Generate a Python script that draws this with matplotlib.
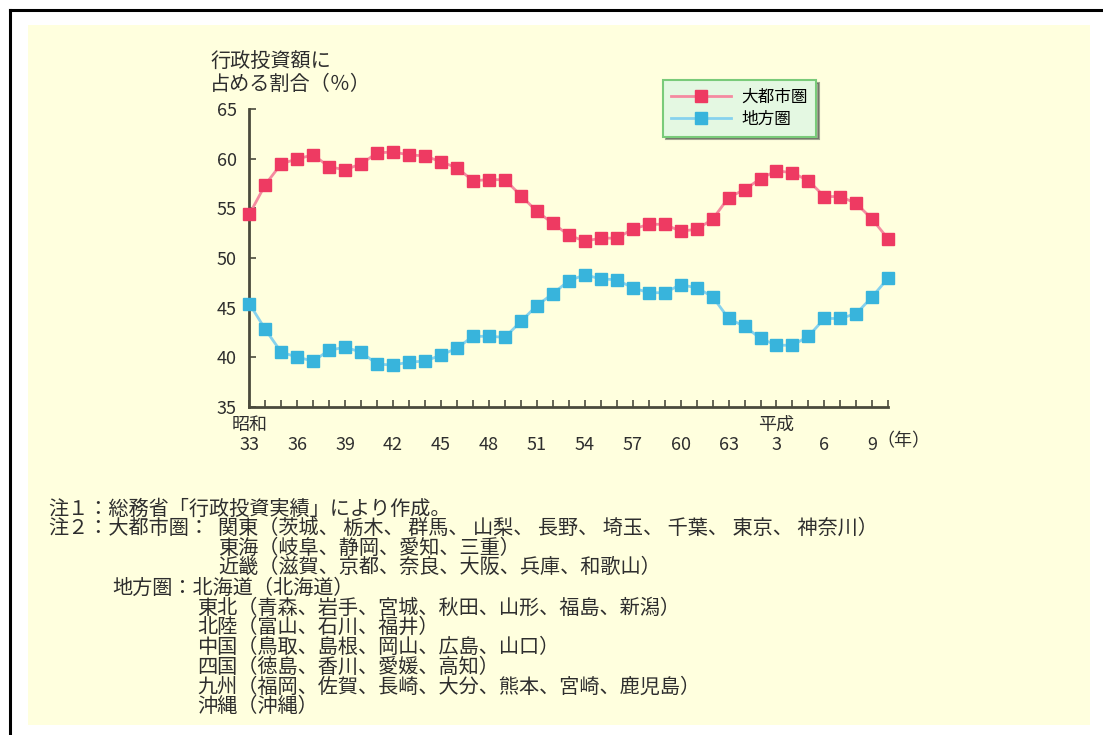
import matplotlib
matplotlib.use('Agg')
import matplotlib.pyplot as plt
from matplotlib.patches import Rectangle
from matplotlib.lines import Line2D

plt.rcParams['font.family'] = ['Noto Sans CJK JP', 'DejaVu Sans']

# ---- data ----
years = [1958, 1959, 1960, 1961, 1962, 1963, 1964, 1965, 1966, 1967,
         1968, 1969, 1970, 1971, 1972, 1973, 1974, 1975, 1976, 1977,
         1978, 1979, 1980, 1981, 1982, 1983, 1984, 1985, 1986, 1987,
         1988, 1989, 1990, 1991, 1992, 1993, 1994, 1995, 1996, 1997, 1998]
metro = [54.4, 57.4, 59.5, 60.0, 60.4, 59.2, 58.9, 59.5, 60.6, 60.7,
         60.4, 60.3, 59.7, 59.1, 57.8, 57.9, 57.9, 56.3, 54.7, 53.5,
         52.3, 51.7, 52.0, 52.0, 52.9, 53.4, 53.4, 52.7, 52.9, 53.9,
         56.1, 56.9, 58.0, 58.8, 58.6, 57.8, 56.2, 56.2, 55.5, 53.9, 51.9]
regional = [45.4, 42.8, 40.5, 40.0, 39.6, 40.7, 41.0, 40.5, 39.3, 39.2,
            39.5, 39.6, 40.2, 40.9, 42.1, 42.1, 42.0, 43.6, 45.2, 46.4,
            47.7, 48.3, 47.9, 47.8, 47.0, 46.5, 46.5, 47.3, 47.0, 46.1,
            43.9, 43.1, 41.9, 41.2, 41.2, 42.1, 43.9, 43.9, 44.4, 46.1, 48.0]
tick_years = [1958, 1961, 1964, 1967, 1970, 1973, 1976, 1979, 1982, 1985,
              1988, 1991, 1994, 1997]
tick_labels = ['33', '36', '39', '42', '45', '48', '51', '54', '57', '60',
               '63', '3', '6', '9']
series_names = ['大都市圏', '地方圏']
y_ticks = [35, 40, 45, 50, 55, 60, 65]
notes = [
    ('注１：総務省「行政投資実績」により作成。', 48, 509),
    ('注２：大都市圏：', 48, 528),
    ('関東（茨城、 栃木、 群馬、 山梨、 長野、 埼玉、 千葉、 東京、 神奈川）', 218, 528),
    ('東海（岐阜、静岡、愛知、三重）', 218, 548),
    ('近畿（滋賀、京都、奈良、大阪、兵庫、和歌山）', 218, 567),
    ('地方圏：北海道（北海道）', 112, 588),
    ('東北（青森、岩手、宮城、秋田、山形、福島、新潟）', 197, 608),
    ('北陸（富山、石川、福井）', 197, 627),
    ('中国（鳥取、島根、岡山、広島、山口）', 197, 647),
    ('四国（徳島、香川、愛媛、高知）', 197, 667),
    ('九州（福岡、佐賀、長崎、大分、熊本、宮崎、鹿児島）', 197, 687),
    ('沖縄（沖縄）', 197, 707),
]

W, H = 1103, 735
fig = plt.figure(figsize=(W / 100, H / 100), dpi=100)
fig.patch.set_facecolor('white')

def fx(px):
    return px / W

def fy(py):
    return 1 - py / H

txt_c = '#2E2E2E'

# cream panel
fig.patches.append(Rectangle((fx(28), fy(725)), fx(1090) - fx(28), fy(25) - fy(725),
                             transform=fig.transFigure, facecolor='#FFFFDE',
                             edgecolor='none', zorder=-5))
# black frame (top / left)
fig.add_artist(Line2D([fx(9.5), 1], [fy(9.5), fy(9.5)], transform=fig.transFigure,
                      color='black', lw=2.2))
fig.add_artist(Line2D([fx(9.5), fx(9.5)], [fy(9.5), 0], transform=fig.transFigure,
                      color='black', lw=2.2))

ax = fig.add_axes([fx(249.3), fy(406.7), fx(888.3) - fx(249.3), fy(109.3) - fy(406.7)])
ax.set_facecolor('none')
ax.set_zorder(2)

red_m, red_l = '#EE3A62', '#F58AA0'
blue_m, blue_l = '#38B4DC', '#86D2EE'

ax.plot(years, metro, color=red_l, lw=2, marker='s', ms=8.6,
        mfc=red_m, mec=red_m, label=series_names[0], clip_on=False, zorder=3)
ax.plot(years, regional, color=blue_l, lw=2, marker='s', ms=8.6,
        mfc=blue_m, mec=blue_m, label=series_names[1], clip_on=False, zorder=3)

ax.set_xlim(years[0], years[-1])
ax.set_ylim(35, 65)
ax.set_yticks(y_ticks)
ax.set_xticks(years, minor=True)
ax.set_xticks(tick_years)
ax.set_xticklabels(tick_labels)
for s in ['top', 'right']:
    ax.spines[s].set_visible(False)
spc = '#4A4A3C'
for s in ['left', 'bottom']:
    ax.spines[s].set_color(spc)
    ax.spines[s].set_linewidth(2)
ax.tick_params(axis='both', which='both', direction='in', color=spc, width=1.2,
               length=5, labelsize=13, labelcolor=txt_c)
ax.tick_params(axis='x', which='major', pad=21)
ax.tick_params(axis='y', pad=9)

# era labels
ax.text(1958, -0.062, '昭和', transform=ax.get_xaxis_transform(), ha='center',
        va='center', fontsize=13, color=txt_c)
ax.text(1991, -0.062, '平成', transform=ax.get_xaxis_transform(), ha='center',
        va='center', fontsize=13, color=txt_c)
ax.annotate('（年）', xy=(1997, 0), xycoords=('data', 'axes fraction'),
            xytext=(3, -25), textcoords='offset points', ha='left', va='center',
            fontsize=13, color=txt_c)

# y-axis title
fig.text(fx(210), fy(62), '行政投資額に', ha='left', va='center', fontsize=14.5,
         color=txt_c)
fig.text(fx(210), fy(84), '占める割合（％）', ha='left', va='center', fontsize=14.5,
         color=txt_c)

# legend
leg = ax.legend(loc='upper left',
                bbox_to_anchor=((663 - 249.3) / 639, 1 + (109.3 - 80) / 297.4),
                borderaxespad=0, frameon=True, fancybox=False, shadow=True,
                fontsize=12, borderpad=0.5, handlelength=3.6, labelspacing=0.35,
                handletextpad=0.6)
leg.get_frame().set_facecolor('#E4F8E2')
leg.get_frame().set_edgecolor('#7ACB7A')
leg.get_frame().set_linewidth(1.5)
leg.get_frame().set_alpha(1)

for txt, x, y in notes:
    fig.text(fx(x), fy(y), txt, ha='left', va='center', fontsize=14.5, color=txt_c)

fig.savefig('out.png', dpi=100)
